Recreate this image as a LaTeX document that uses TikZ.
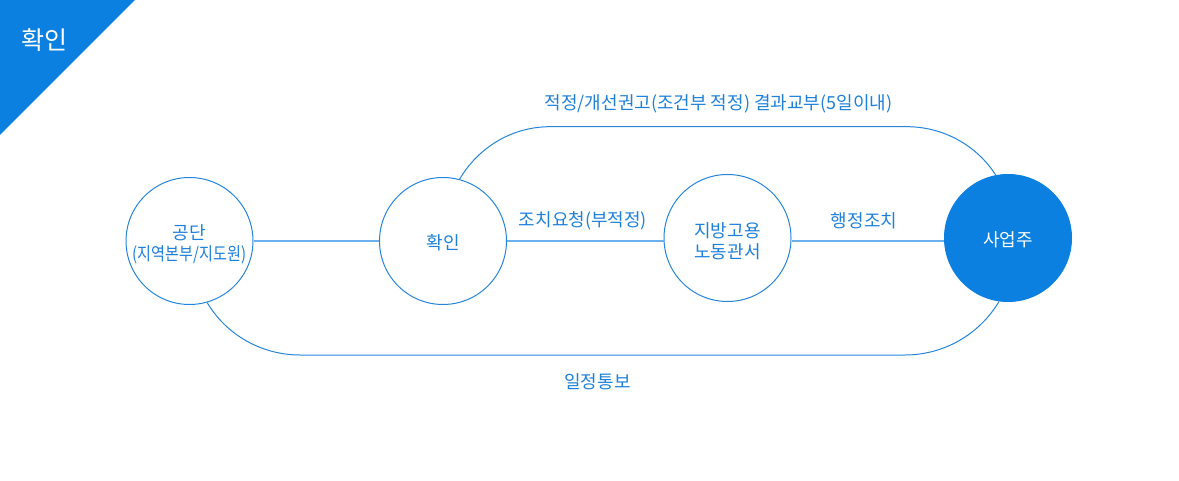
\documentclass[tikz,border=0pt]{standalone}
\usepackage{fontspec}
\setmainfont{Noto Sans CJK KR}
\newfontfamily\condfont{Noto Sans CJK KR}[FakeStretch=0.84]
\definecolor{mainblue}{HTML}{0B80E0}
\definecolor{lineblue}{HTML}{2584DC}
\definecolor{lightline}{HTML}{6CB1EE}
\definecolor{txtblue}{HTML}{1E80DA}
\newcommand\dnline[2]{\raisebox{-#1}[\height][\depth]{#2}}
\begin{document}
\begin{tikzpicture}[x=1pt,y=-1pt,
  station/.style={circle, draw=lineblue, line width=1pt, minimum size=127pt, inner sep=0pt,
    align=center, text=txtblue, font=\fontsize{18}{21.5}\selectfont},
  boss/.style={station, fill=mainblue, draw=mainblue, text=white},
  lbl/.style={text=txtblue, font=\fontsize{18}{21}\selectfont, inner sep=0pt},
  link/.style={draw=lightline, line width=1.4pt},
  loop/.style={draw=lineblue, line width=1pt}]
\useasboundingbox (0,0) rectangle (1179,481);
\fill[mainblue] (0,0) -- (135,0) -- (0,135) -- cycle;
\node[text=white, font=\fontsize{25}{29}\selectfont, inner sep=0pt] (title) at (44.5,40.5) {확인};

\node[station] (c1) at (189.5,241) {\dnline{3.5pt}{공단}\\\dnline{3.5pt}{\condfont(지역본부/지도원)}};
\node[station] (c2) at (443,241) {\dnline{2pt}{확인}};
\node[station] (c3) at (727.5,238) {\dnline{3.5pt}{지방고용}\\\dnline{3.5pt}{노동관서}};
\node[boss] (c4) at (1008,238) {\dnline{1.5pt}{사업주}};

\draw[link] (c1.east) -- (c2.west);
\draw[link] (c2.east) -- (c2.east -| c3.west);
\draw[link] (c2.east -| c3.east) -- (c2.east -| c4.west);

\coordinate (tl) at (550,126.7);
\coordinate (tr) at (907,126.7);
\coordinate (bl) at (300,355);
\coordinate (br) at (905,355);
\draw[loop] (c2.75) .. controls (479,146.4) and (513,126.7) .. (tl) -- (tr)
  .. controls (943,126.7) and (976.7,145.2) .. (c4.101);
\draw[loop] (c1.-74) .. controls (226.2,334.8) and (261.6,355) .. (bl) -- (br)
  .. controls (943.8,355) and (979.6,334.3) .. (c4.-98);

\node[lbl] (ltop) at (718.5,103.5) {적정/개선권고(조건부 적정) 결과교부(5일이내)};
\node[lbl] (lreq) at (583,221) {조치요청(부적정)};
\node[lbl] (ladm) at (864,221) {행정조치};
\node[lbl] (lbot) at (597.5,381.5) {일정통보};
\end{tikzpicture}
\end{document}
